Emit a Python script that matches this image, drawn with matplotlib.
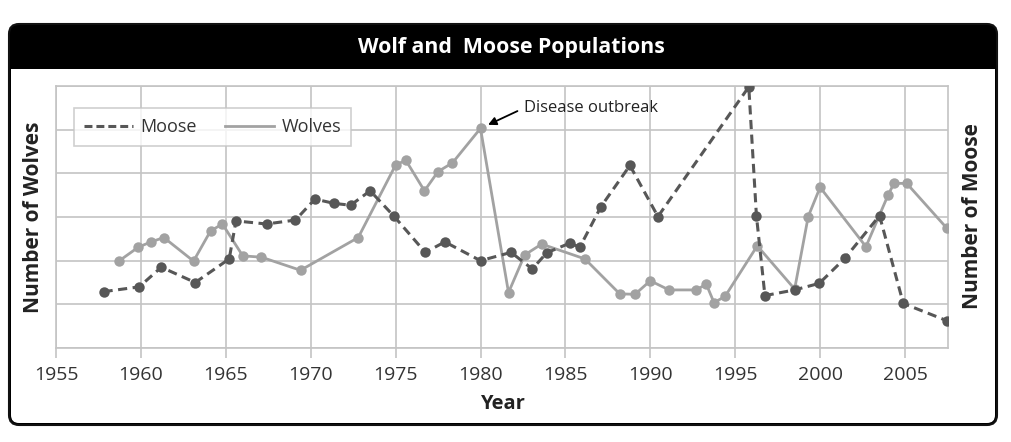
import matplotlib
matplotlib.use("Agg")
import matplotlib.pyplot as plt
from matplotlib.patches import FancyBboxPatch, Rectangle
from matplotlib.lines import Line2D

plt.rcParams['font.family'] = ['Open Sans', 'DejaVu Sans']

title = "Wolf and  Moose Populations"
xlabel = "Year"
ylabel_left = "Number of Wolves"
ylabel_right = "Number of Moose"
annotation_text = "Disease outbreak"
xticks = [1955, 1960, 1965, 1970, 1975, 1980, 1985, 1990, 1995, 2000, 2005]

moose_years = [1957.8, 1959.9, 1961.2, 1963.2, 1965.2, 1965.6, 1967.4, 1969.1, 1970.25,
               1971.4, 1972.35, 1973.5, 1974.9, 1976.75, 1977.9, 1980.0, 1981.8, 1983.05,
               1983.9, 1985.25, 1985.85, 1987.1, 1988.8, 1990.45, 1995.8, 1996.25, 1996.75,
               1998.5, 1999.95, 2001.45, 2003.5, 2004.9, 2007.5]
moose = [1.29, 1.40, 1.85, 1.50, 2.04, 2.91, 2.84, 2.93, 3.41, 3.31, 3.27, 3.60, 3.02,
         2.19, 2.43, 2.00, 2.19, 1.81, 2.18, 2.40, 2.31, 3.24, 4.18, 3.01, 5.98, 3.03,
         1.20, 1.33, 1.48, 2.05, 3.03, 1.02, 0.62]

wolves_years = [1958.7, 1959.85, 1960.6, 1961.35, 1963.1, 1964.1, 1964.8, 1966.0, 1967.1,
                1969.4, 1972.8, 1975.0, 1975.6, 1976.7, 1977.5, 1978.35, 1980.0, 1981.65,
                1982.6, 1983.6, 1986.15, 1988.2, 1989.1, 1990.0, 1991.1, 1992.7, 1993.3,
                1993.75, 1994.4, 1996.3, 1998.5, 1999.3, 2000.0, 2002.7, 2004.0, 2004.35,
                2005.1, 2007.45]
wolves = [1.99, 2.31, 2.43, 2.53, 1.99, 2.68, 2.84, 2.11, 2.08, 1.78, 2.53, 4.19, 4.30,
          3.60, 4.04, 4.24, 5.03, 1.27, 2.13, 2.38, 2.04, 1.24, 1.23, 1.54, 1.33, 1.33,
          1.46, 1.04, 1.18, 2.34, 1.35, 3.01, 3.68, 2.32, 3.50, 3.77, 3.77, 2.75]

W, H = 1012, 442
fig = plt.figure(figsize=(W / 100, H / 100), dpi=100)

# background overlay in pixel coords
bg = fig.add_axes([0, 0, 1, 1], zorder=0)
bg.set_xlim(0, W)
bg.set_ylim(H, 0)
bg.axis('off')

x0, x1, y0, y1, ybar = 9, 997, 24, 425, 69
r = 10
bg.add_patch(FancyBboxPatch((x0, y0), x1 - x0, y1 - y0,
                            boxstyle=f"round,pad=0,rounding_size={r}",
                            facecolor='black', edgecolor='#111111', linewidth=1.5))
bg.add_patch(FancyBboxPatch((x0 + 2, ybar), x1 - x0 - 4, y1 - ybar - 2,
                            boxstyle=f"round,pad=0,rounding_size={r - 2}",
                            facecolor='white', edgecolor='none'))
bg.add_patch(Rectangle((x0 + 2, ybar), x1 - x0 - 4, 20, facecolor='white', edgecolor='none'))

bg.text(511, 47, title, color='white', fontsize=15.3, fontweight='bold',
        ha='center', va='center')
bg.text(34, 217, ylabel_left, rotation=90, fontsize=15, fontweight='bold',
        ha='center', va='center', color='#222222')
bg.text(973, 216, ylabel_right, rotation=90, fontsize=15, fontweight='bold',
        ha='center', va='center', color='#222222')

# main plot axes
L, R, T, B = 56, 948, 86, 348
ax = fig.add_axes([L / W, 1 - B / H, (R - L) / W, (B - T) / H], zorder=1)
ax.set_facecolor('white')
px_per_year = (905 - 56) / 50.0
ax.set_xlim(1955, 1955 + (R - L) / px_per_year)
ax.set_ylim(0, 6)

grid_c = '#c4c4c4'
for s in ax.spines.values():
    s.set_color(grid_c)
    s.set_linewidth(1.2)
ax.set_xticks(xticks)
ax.set_yticks(range(0, 7))
ax.grid(True, color=grid_c, linewidth=1.2)
ax.set_axisbelow(True)
ax.tick_params(axis='x', direction='out', length=7.5, width=1.2, color=grid_c,
               labelsize=14, labelcolor='#333333', pad=5.5)
ax.tick_params(axis='y', length=0, labelleft=False)
ax.set_xlabel(xlabel, fontsize=14.5, fontweight='bold', color='#222222', labelpad=7)

moose_c = '#575757'
wolf_c = '#a2a2a2'
ax.plot(wolves_years, wolves, color=wolf_c, linewidth=2.0, marker='o',
        markersize=7.5, markeredgewidth=0, zorder=3)
ax.plot(moose_years, moose, color=moose_c, linewidth=2.2, dashes=(3, 1.8), marker='o',
        markersize=7.5, markeredgewidth=0, zorder=4)

handles = [Line2D([], [], color=moose_c, linewidth=2.2, dashes=(2.6, 1.3)),
           Line2D([], [], color=wolf_c, linewidth=2.0)]
leg = ax.legend(handles, ['Moose', 'Wolves'], loc='upper left',
                bbox_to_anchor=((74 - L) / (R - L), (B - 108) / (B - T)),
                ncol=2, frameon=True, fancybox=False, edgecolor=grid_c,
                fontsize=13, handlelength=2.7, handletextpad=0.4,
                columnspacing=1.6, borderpad=0.55, borderaxespad=0)
leg.get_frame().set_linewidth(1.2)
for t in leg.get_texts():
    t.set_color('#333333')

ax.annotate(annotation_text, xy=(1980.0, 5.03),
            xytext=(1955 + (524 - L) / px_per_year, (B - 108) / ((B - T) / 6)),
            fontsize=12, color='#222222', ha='left', va='center',
            arrowprops=dict(arrowstyle='-|>', color='black', lw=1.3,
                            shrinkA=3, shrinkB=6, relpos=(0, 0.5),
                            mutation_scale=12))

fig.savefig('out.png', dpi=100)
